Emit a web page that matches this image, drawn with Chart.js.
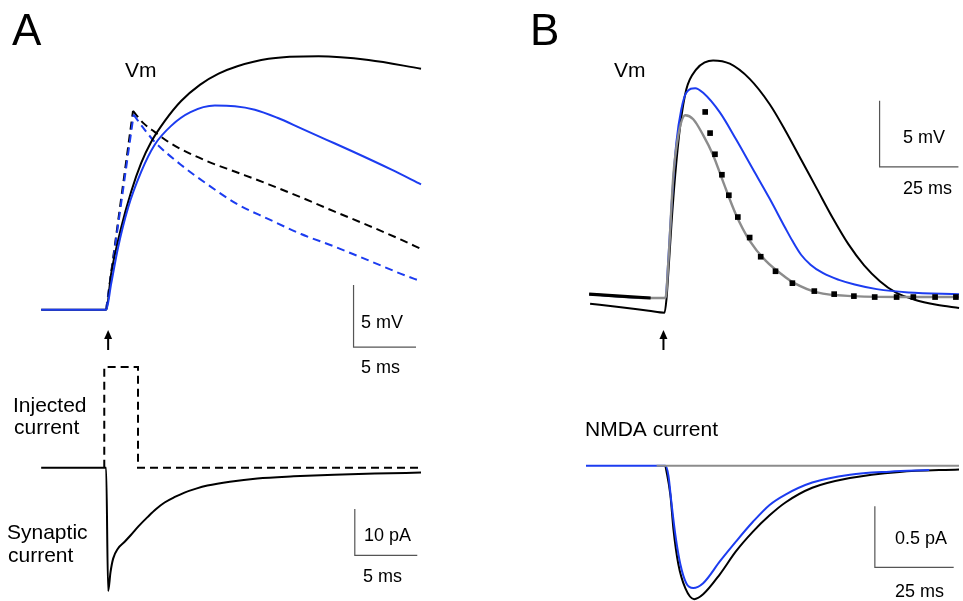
<!DOCTYPE html>
<html>
<head>
<meta charset="utf-8">
<script src="https://cdn.jsdelivr.net/npm/chart.js@4.4.1/dist/chart.umd.min.js"></script>
<style>
  html, body { margin: 0; padding: 0; background: #fff; }
  #wrap { width: 963px; height: 601px; position: relative; }
</style>
</head>
<body>
<div id="wrap"><canvas id="fig" width="963" height="601"></canvas></div>
<script>
// time in ms from stimulus, Vm in mV from rest, current in pA

// A, Vm with synaptic input (solid)
const tA_synBlack = [-5.2, 0, 0.4, 1.2, 2.0, 2.8, 3.6, 4.7, 6.0, 7.5, 9.0, 10.5, 13.0, 17.0, 21.0, 25.2];
const vA_synBlack = [0, 0, 2.9, 6.6, 9.5, 11.8, 13.5, 15.2, 16.8, 18.1, 19.0, 19.6, 20.2, 20.4, 20.1, 19.4];
const tA_synBlue = [-5.2, 0, 0.4, 0.95, 1.75, 2.8, 3.9, 5.2, 6.75, 8.7, 10.3, 11.9, 13.7, 15.6, 17.6, 19.6, 22.8, 25.2];
const vA_synBlue = [0, 0, 2.1, 5.0, 8.2, 11.1, 13.3, 14.8, 15.9, 16.43, 16.38, 16.1, 15.45, 14.6, 13.7, 12.8, 11.3, 10.1];
// A, Vm with injected current (dashed): rise during the pulse, then decay
const tA_injBlackRise = [0, 2.15];
const vA_injBlackRise = [0, 16.0];
const tA_injBlackDecay = [2.15, 3.0, 3.9, 5.0, 5.95, 8.1, 10.5, 13.0, 15.6, 18.25, 20.95, 23.6, 25.2];
const vA_injBlackDecay = [16.0, 15.0, 14.3, 13.5, 12.95, 11.95, 11.05, 10.1, 9.05, 7.92, 6.8, 5.65, 4.9];
const tA_injBlueRise = [0, 2.2];
const vA_injBlueRise = [0, 15.7];
const tA_injBlueDecay = [2.2, 3.0, 3.9, 5.95, 8.1, 10.5, 13.0, 15.6, 18.25, 20.95, 23.6, 25.2];
const vA_injBlueDecay = [15.7, 14.6, 13.5, 11.7, 10.1, 8.5, 7.3, 6.1, 5.1, 4.0, 2.9, 2.3];

// A, currents
const tA_injCur = [-0.15, -0.15, 2.55, 2.55, 25.2];
const iA_injCur = [0, 21.7, 21.7, 0, 0];
const tA_synCur = [-5.2, 0, 0.16, 0.35, 0.56, 0.95, 1.5, 1.98, 2.6, 3.33, 4.0, 4.68, 5.5, 6.27, 7.2, 8.1, 9.9, 12.1, 15.0, 18.25, 21.5, 25.2];
const iA_synCur = [0, 0, -26.6, -22.5, -19.6, -17.4, -15.9, -14.5, -12.6, -10.6, -8.9, -7.5, -6.3, -5.35, -4.5, -3.85, -3.0, -2.3, -1.85, -1.5, -1.25, -1.05];

// B, Vm
const tB_black = [-23.9, -14.8, -5.3, -0.3, 0.3, 0.9, 1.9, 3.1, 4.7, 6.6, 9.7, 12.5, 15.1, 20.4, 26.7, 33.0, 38.0, 43.0, 48.0, 53.0, 58.0, 63.0, 68.0, 73.0, 79.0, 86.0, 93.1];
const vB_black = [-0.5, -0.75, -1.04, -1.19, -0.22, 1.8, 5.5, 9.25, 13.0, 15.7, 17.2, 17.75, 17.9, 17.65, 16.5, 14.6, 12.6, 10.4, 8.2, 6.0, 4.0, 2.4, 1.2, 0.35, -0.2, -0.58, -0.82];
const tB_blue = [-24.2, -4.7, 0, 0.94, 1.89, 3.46, 5.03, 6.6, 9.43, 11.95, 17.3, 22.33, 27.67, 33.02, 38.05, 40.25, 43.0, 46.0, 50.0, 55.0, 60.0, 67.0, 77.0, 93.08];
const vB_blue = [0.22, -0.07, -0.07, 3.0, 6.8, 11.7, 14.2, 15.45, 15.8, 15.45, 13.95, 11.95, 9.7, 7.45, 5.2, 4.25, 3.2, 2.45, 1.8, 1.3, 0.95, 0.6, 0.35, 0.22];
const tB_gray = [-24.2, -4.7, 0, 0.94, 2.52, 4.09, 6.29, 8.81, 11.95, 15.09, 18.24, 22.33, 26.73, 31.76, 38.05, 40.88, 48.11, 59.75, 77.36, 93.08];
const vB_gray = [0.22, -0.07, -0.07, 2.75, 9.25, 12.25, 13.75, 13.45, 12.25, 10.75, 8.75, 6.25, 4.25, 2.75, 1.5, 1.05, 0.35, 0.07, 0, 0];
const tB_dots = [12.6, 14.15, 15.7, 17.9, 20.1, 22.95, 26.7, 30.2, 34.9, 40.25, 47.2, 53.5, 59.75, 66.35, 73.3, 78.6, 85.5, 92.1];
const vB_dots = [14.0, 12.4, 10.8, 9.25, 7.7, 6.05, 4.5, 3.05, 1.95, 1.05, 0.45, 0.22, 0.07, 0, 0, 0, 0, 0];
const tB_dotsBase = [-24.2, -4.7];
const vB_dotsBase = [0.22, -0.07];

// B, NMDA current
const tB_nmdaBlue = [-25.2, 0, 0.94, 1.89, 3.14, 4.72, 6.6, 8.81, 11.95, 17.3, 22.33, 27.67, 33.02, 38.05, 46.54, 58.49, 71.07, 83.65];
const iB_nmdaBlue = [0, 0, -0.08, -0.3, -0.565, -0.805, -0.96, -1.0, -0.96, -0.78, -0.62, -0.46, -0.32, -0.235, -0.137, -0.073, -0.048, -0.035];
const tB_nmdaBlack = [0, 1.57, 2.52, 4.09, 6.29, 9.1, 11.95, 17.3, 22.33, 27.67, 33.02, 38.05, 46.54, 58.49, 74.2, 93.08];
const iB_nmdaBlack = [0, -0.24, -0.515, -0.805, -1.0, -1.09, -1.05, -0.885, -0.7, -0.54, -0.405, -0.3, -0.18, -0.1, -0.05, -0.03];
const tB_nmdaGray = [-2.8, 93.08];
const iB_nmdaGray = [0, 0];

// scale bars: corner (t, v) plus sizes
const barA_vm = { t: 19.8, v: -3.0, dt: 5, dv: 5 };
const barA_cur = { t: 19.9, v: -18.9, dt: 5, dv: 10 };
const barB_vm = { t: 67.9, v: 9.85, dt: 25, dv: 5 };
const barB_cur = { t: 66.4, v: -0.83, dt: 25, dv: 0.5 };

const BLUE = '#1c3cf0';
const GRAY = '#8c8c8c';
const FONT = '"Liberation Sans", Arial, sans-serif';

function pts(ts, vs) {
  return ts.map((t, i) => ({ x: t, y: vs[i] }));
}

function trace(ts, vs, color, xAxis, yAxis, extra) {
  return Object.assign({
    data: pts(ts, vs),
    borderColor: color,
    borderWidth: 2,
    pointRadius: 0,
    fill: false,
    clip: false,
    cubicInterpolationMode: 'monotone',
    xAxisID: xAxis,
    yAxisID: yAxis
  }, extra || {});
}

function bar(b, xAxis, yAxis) {
  return {
    data: [{ x: b.t, y: b.v + b.dv }, { x: b.t, y: b.v }, { x: b.t + b.dt, y: b.v }],
    borderColor: '#555',
    borderWidth: 1.2,
    pointRadius: 0,
    tension: 0,
    clip: false,
    xAxisID: xAxis,
    yAxisID: yAxis
  };
}

const straight = { cubicInterpolationMode: 'default', tension: 0 };
const dashedStraight = { cubicInterpolationMode: 'default', tension: 0, borderDash: [8, 5] };
const dashedCurve = { borderDash: [8, 5] };

// first in list = drawn on top
const datasets = [
  trace(tA_synBlue, vA_synBlue, BLUE, 'xA', 'yAv'),
  trace(tA_synBlack, vA_synBlack, '#000', 'xA', 'yAv'),
  trace(tA_injBlueRise, vA_injBlueRise, BLUE, 'xA', 'yAv', dashedStraight),
  trace(tA_injBlueDecay, vA_injBlueDecay, BLUE, 'xA', 'yAv', dashedCurve),
  trace(tA_injBlackRise, vA_injBlackRise, '#000', 'xA', 'yAv', dashedStraight),
  trace(tA_injBlackDecay, vA_injBlackDecay, '#000', 'xA', 'yAv', dashedCurve),
  trace(tA_synCur, iA_synCur, '#000', 'xA', 'yAi'),
  trace(tA_injCur, iA_injCur, '#000', 'xA', 'yAi', dashedStraight),

  trace(tB_dots, vB_dots, '#000', 'xB', 'yBv', {
    showLine: false, pointRadius: 4, pointStyle: 'rect',
    pointBackgroundColor: '#000', pointBorderWidth: 0
  }),
  trace(tB_dotsBase, vB_dotsBase, '#000', 'xB', 'yBv', { borderWidth: 3.2 }),
  trace(tB_gray, vB_gray, GRAY, 'xB', 'yBv', { borderWidth: 2.4 }),
  trace(tB_blue, vB_blue, BLUE, 'xB', 'yBv'),
  trace(tB_black, vB_black, '#000', 'xB', 'yBv'),

  trace(tB_nmdaGray, iB_nmdaGray, GRAY, 'xB', 'yBi', straight),
  trace(tB_nmdaBlue, iB_nmdaBlue, BLUE, 'xB', 'yBi'),
  trace(tB_nmdaBlack, iB_nmdaBlack, '#000', 'xB', 'yBi'),

  bar(barA_vm, 'xA', 'yAv'),
  bar(barA_cur, 'xA', 'yAi'),
  bar(barB_vm, 'xB', 'yBv'),
  bar(barB_cur, 'xB', 'yBi')
];

// text: [text, left, baseline, size]
const labels = [
  ['A', 12, 45, 44],
  ['B', 530, 45, 44],
  ['Vm', 125, 77, 21],
  ['Vm', 614, 77, 21],
  ['Injected', 13, 412, 21],
  ['current', 14, 434, 21],
  ['Synaptic', 7, 539, 21],
  ['current', 8, 562, 21],
  ['NMDA current', 585, 436, 21],
  ['5 mV', 361, 328, 18],
  ['5 ms', 361, 373, 18],
  ['10 pA', 364, 541, 18],
  ['5 ms', 363, 582, 18],
  ['5 mV', 903, 143, 18],
  ['25 ms', 903, 194, 18],
  ['0.5 pA', 895, 544, 18],
  ['25 ms', 895, 597, 18]
];

const decor = {
  id: 'decor',
  afterDatasetsDraw(chart) {
    const ctx = chart.ctx;
    ctx.save();
    ctx.fillStyle = '#000';
    ctx.textBaseline = 'alphabetic';
    ctx.textAlign = 'left';
    labels.forEach(([txt, x, y, size]) => {
      ctx.font = size + 'px ' + FONT;
      ctx.fillText(txt, x, y);
    });
    // stimulus arrows
    [['xA', 2], ['xB', -2]].forEach(([id, dx]) => {
      const x = chart.scales[id].getPixelForValue(0) + dx;
      ctx.strokeStyle = '#000';
      ctx.lineWidth = 2;
      ctx.beginPath();
      ctx.moveTo(x, 350);
      ctx.lineTo(x, 336);
      ctx.stroke();
      ctx.beginPath();
      ctx.moveTo(x, 330);
      ctx.lineTo(x - 4, 339);
      ctx.lineTo(x + 4, 339);
      ctx.closePath();
      ctx.fill();
    });
    ctx.restore();
  }
};

// pixel layout of the axes (hidden); all scales span the whole canvas
const W = 963, H = 601;
function xRange(zeroPx, pxPerUnit) {
  return { min: -zeroPx / pxPerUnit, max: (W - zeroPx) / pxPerUnit };
}
function yRange(zeroPx, pxPerUnit) {
  return { min: (zeroPx - H) / pxPerUnit, max: zeroPx / pxPerUnit };
}
function hidden(axis, r) {
  return { type: 'linear', axis: axis, display: false, min: r.min, max: r.max };
}

new Chart(document.getElementById('fig'), {
  type: 'line',
  data: { datasets },
  plugins: [decor],
  options: {
    responsive: false,
    animation: false,
    events: [],
    layout: { padding: 0 },
    plugins: { legend: { display: false }, tooltip: { enabled: false } },
    scales: {
      xA: hidden('x', xRange(103, 12.6)),
      yAv: hidden('y', yRange(310, 12.6)),
      yAi: hidden('y', yRange(470, 4.7)),
      xB: hidden('x', xRange(667, 3.18)),
      yBv: hidden('y', yRange(297, 13.4)),
      yBi: hidden('y', yRange(468, 124))
    }
  }
});
</script>
</body>
</html>
